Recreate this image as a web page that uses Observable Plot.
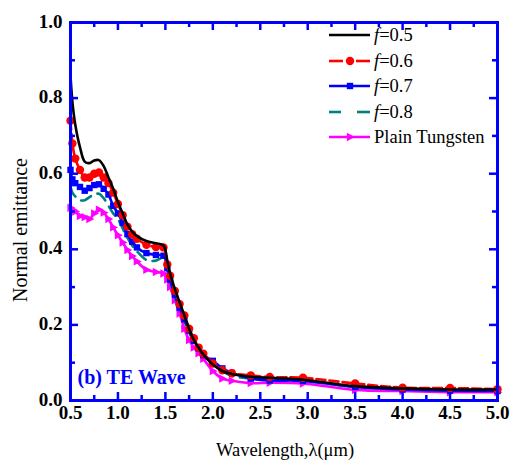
<!DOCTYPE html>
<html><head><meta charset="utf-8">
<script src="https://cdn.jsdelivr.net/npm/d3@7"></script>
<script src="https://cdn.jsdelivr.net/npm/@observablehq/plot@0.6"></script>
<style>body{margin:0;background:#fff;overflow:hidden}
svg text{font-family:"Liberation Serif","Times New Roman",Times,serif !important;}
</style>
</head><body><div id="chart"></div>
<script>
// Wavelength (µm)
const wavelength = [0.5, 0.52, 0.55, 0.6, 0.65, 0.7, 0.75, 0.8, 0.85, 0.9, 0.95, 1.0, 1.05, 1.1, 1.15, 1.2, 1.3, 1.4, 1.48, 1.52, 1.55, 1.6, 1.65, 1.7, 1.75, 1.8, 1.85, 1.9, 2.0, 2.1, 2.2, 2.4, 2.6, 2.95, 3.5, 4.0, 4.5, 5.0];
// Normal emittance per series
const f05 = [0.86, 0.79, 0.73, 0.67, 0.632, 0.628, 0.635, 0.636, 0.62, 0.59, 0.56, 0.525, 0.495, 0.465, 0.447, 0.435, 0.422, 0.416, 0.41, 0.37, 0.335, 0.295, 0.26, 0.225, 0.19, 0.16, 0.14, 0.122, 0.095, 0.078, 0.07, 0.063, 0.06, 0.055, 0.038, 0.032, 0.029, 0.029];
const f06 = [0.74, 0.68, 0.64, 0.61, 0.59, 0.59, 0.6, 0.603, 0.59, 0.575, 0.55, 0.52, 0.49, 0.46, 0.44, 0.428, 0.412, 0.406, 0.405, 0.36, 0.33, 0.29, 0.255, 0.225, 0.19, 0.165, 0.14, 0.124, 0.098, 0.08, 0.072, 0.066, 0.062, 0.06, 0.045, 0.034, 0.033, 0.03];
const f07 = [0.61, 0.585, 0.575, 0.565, 0.555, 0.562, 0.57, 0.572, 0.56, 0.545, 0.515, 0.495, 0.47, 0.44, 0.42, 0.405, 0.39, 0.385, 0.383, 0.35, 0.32, 0.28, 0.245, 0.215, 0.185, 0.158, 0.138, 0.12, 0.105, 0.085, 0.073, 0.058, 0.053, 0.052, 0.036, 0.029, 0.026, 0.025];
const f08 = [0.565, 0.55, 0.54, 0.53, 0.53, 0.538, 0.545, 0.547, 0.535, 0.515, 0.495, 0.48, 0.455, 0.43, 0.41, 0.395, 0.372, 0.37, 0.378, 0.345, 0.315, 0.275, 0.24, 0.21, 0.18, 0.155, 0.135, 0.118, 0.1, 0.078, 0.065, 0.058, 0.055, 0.052, 0.036, 0.03, 0.027, 0.026];
const plain = [0.51, 0.505, 0.5, 0.488, 0.485, 0.48, 0.495, 0.505, 0.497, 0.48, 0.458, 0.437, 0.418, 0.398, 0.382, 0.368, 0.346, 0.34, 0.336, 0.32, 0.3, 0.265, 0.23, 0.19, 0.16, 0.14, 0.125, 0.11, 0.078, 0.058, 0.052, 0.046, 0.047, 0.045, 0.028, 0.025, 0.022, 0.022];

const seriesNames = ["f=0.5", "f=0.6", "f=0.7", "f=0.8", "Plain Tungsten"];
const xMajor = [0.5, 1.0, 1.5, 2.0, 2.5, 3.0, 3.5, 4.0, 4.5, 5.0];
const xMinor = [0.75, 1.25, 1.75, 2.25, 2.75, 3.25, 3.75, 4.25, 4.75];
const yMajor = [0.0, 0.2, 0.4, 0.6, 0.8, 1.0];
const yMinor = [0.1, 0.3, 0.5, 0.7, 0.9];

const valuesBySeries = [f05, f06, f07, f08, plain];
const rows = valuesBySeries.map((vals, s) => wavelength.map((w, i) => ({series: seriesNames[s], x: w, y: vals[i]})));

const BLUE = "#0000ff";
const FONT = "'Liberation Serif', 'Times New Roman', Times, serif";
const triangleRight = {
  draw(ctx, size) {
    const r = Math.sqrt(size / Math.PI);
    ctx.moveTo(r * 1.15, 0);
    ctx.lineTo(-r * 0.75, -r * 1.0);
    ctx.lineTo(-r * 0.75, r * 1.0);
    ctx.closePath();
  }
};
const styles = [
  {stroke: "#000000", dash: null, symbol: null},
  {stroke: "#ff0000", dash: "9,4", symbol: "circle"},
  {stroke: "#0000ff", dash: null, symbol: "square"},
  {stroke: "#008080", dash: "11,7", symbol: null},
  {stroke: "#ff00ff", dash: null, symbol: triangleRight}
];

const xLen = (px) => px / 94.9;   // px -> µm
const yLen = (px) => px / 378;    // px -> emittance

const marks = [];
[4, 3, 2, 1, 0].forEach(s => {
  const st = styles[s];
  marks.push(Plot.line(rows[s], {x: "x", y: "y", stroke: st.stroke, strokeWidth: 2.6, strokeDasharray: st.dash, curve: "catmull-rom"}));
  if (st.symbol) {
    marks.push(Plot.dot(rows[s], {x: "x", y: "y", fill: st.stroke, stroke: "none", symbol: st.symbol, r: s === 2 ? 3.6 : 4.2}));
  }
});
marks.push(
  Plot.frame({stroke: BLUE, strokeWidth: 3}),
  Plot.ruleX(xMajor, {x: d => d, y1: 0, y2: yLen(8), stroke: BLUE, strokeWidth: 2.5}),
  Plot.ruleX(xMinor, {x: d => d, y1: 0, y2: yLen(5), stroke: BLUE, strokeWidth: 2.5}),
  Plot.ruleX(xMajor, {x: d => d, y1: 1, y2: 1 - yLen(8), stroke: BLUE, strokeWidth: 2.5}),
  Plot.ruleX(xMinor, {x: d => d, y1: 1, y2: 1 - yLen(5), stroke: BLUE, strokeWidth: 2.5}),
  Plot.ruleY(yMajor, {y: d => d, x1: 0.5, x2: 0.5 + xLen(8), stroke: BLUE, strokeWidth: 2.5}),
  Plot.ruleY(yMinor, {y: d => d, x1: 0.5, x2: 0.5 + xLen(5), stroke: BLUE, strokeWidth: 2.5}),
  Plot.ruleY(yMajor, {y: d => d, x1: 5, x2: 5 - xLen(8), stroke: BLUE, strokeWidth: 2.5}),
  Plot.ruleY(yMinor, {y: d => d, x1: 5, x2: 5 - xLen(5), stroke: BLUE, strokeWidth: 2.5}),
  Plot.axisX(xMajor, {tickSize: 0, tickPadding: 5, fontSize: 19, fontWeight: "bold", fill: "#000", label: null, tickFormat: d3.format(".1f")}),
  Plot.axisY(yMajor, {tickSize: 0, tickPadding: 8, dy: -1, fontSize: 19, fontWeight: "bold", fill: "#000", label: null, tickFormat: d3.format(".1f")}),
  Plot.text(["(b) TE Wave"], {frameAnchor: "bottom-left", text: d => d, dx: 7, dy: -17, fill: BLUE, fontSize: 20, fontWeight: "bold", textAnchor: "start"})
);

const svg = Plot.plot({
  width: 512, height: 461,
  marginLeft: 70, marginRight: 15, marginTop: 22, marginBottom: 61,
  style: {fontFamily: FONT, background: "#fff", color: "#000"},
  x: {domain: [0.5, 5]},
  y: {domain: [0, 1]},
  marks
});
document.getElementById("chart").appendChild(svg);

const g = d3.select(svg).append("g").attr("font-family", FONT).attr("fill", "#000").attr("text-anchor", "start");
g.append("text").attr("transform", "translate(27,230) rotate(-90)").attr("text-anchor", "middle").attr("font-size", 20).text("Normal emittance");
g.append("text").attr("x", 285).attr("y", 456).attr("text-anchor", "middle").attr("font-size", 18.5).text("Wavelength,λ(μm)");

const legY = [35, 61, 86, 112, 137];
seriesNames.forEach((name, s) => {
  const st = styles[s];
  const y = legY[s];
  const row = g.append("g");
  const seg = (a, b) => row.append("line").attr("x1", a).attr("x2", b).attr("y1", y).attr("y2", y).attr("stroke", st.stroke).attr("stroke-width", 2.6);
  if (s === 3) { seg(329, 341); seg(357, 370); }
  else if (s === 1) { seg(329, 343); seg(356, 370); }
  else seg(329, 370);
  if (st.symbol) {
    const sym = st.symbol === "circle" ? d3.symbolCircle : st.symbol === "square" ? d3.symbolSquare : st.symbol;
    const size = Math.PI * (s === 2 ? 3.6 : 4.2) ** 2;
    row.append("path").attr("transform", `translate(350,${y})`).attr("d", d3.symbol(sym, size)()).attr("fill", st.stroke);
  }
  const t = row.append("text").attr("x", 374).attr("y", y + 6).attr("font-size", 18.5).attr("text-anchor", "start");
  if (name.startsWith("f=")) {
    t.append("tspan").attr("font-style", "italic").text("f");
    t.append("tspan").text(name.slice(1));
  } else {
    t.text(name);
  }
});
</script>
</body></html>
